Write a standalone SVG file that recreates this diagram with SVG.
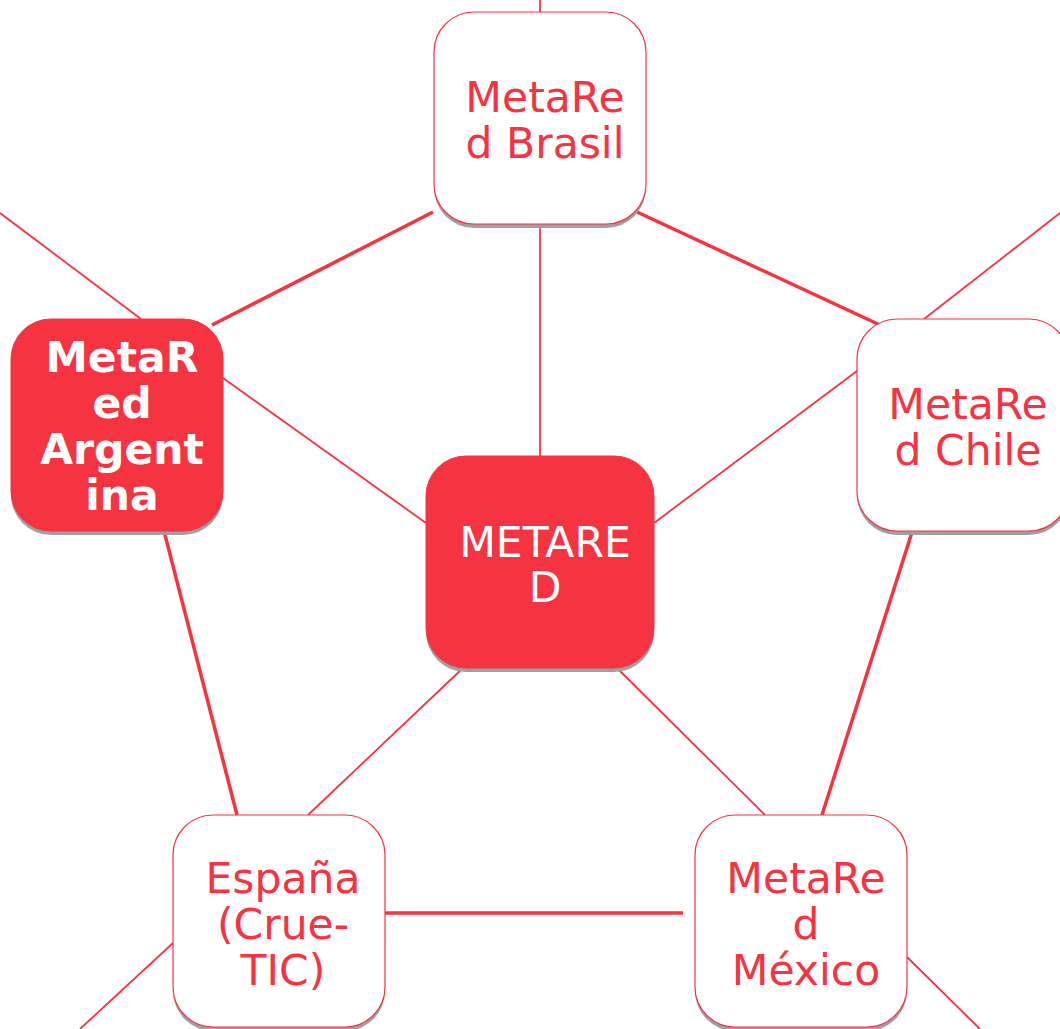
<svg xmlns="http://www.w3.org/2000/svg" width="1060" height="1029" viewBox="0 0 1060 1029">
<style>
.thin{stroke:#F63341;stroke-width:1.8;fill:none}
.thick{stroke:#F63341;stroke-width:3.5;fill:none}
.shadow{fill:#a0a0a0}
.white{fill:#ffffff;stroke:#F63341;stroke-width:1.2}
.red{fill:#F63341;stroke:#F63341;stroke-width:1}
.t{font-family:"DejaVu Sans",sans-serif;font-size:42.5px;text-anchor:middle}
.tr{fill:#F63341}
.tw{fill:#ffffff}
.b{font-weight:bold}
</style>
<rect width="1060" height="1029" fill="#ffffff"/>
<g id="connectors">
<line class="thin" x1="540" y1="0" x2="540" y2="12"/>
<line class="thin" x1="540" y1="224" x2="540" y2="456"/>
<line class="thick" x1="433" y1="212" x2="212" y2="325"/>
<line class="thick" x1="637" y1="212" x2="880" y2="325"/>
<line class="thin" x1="0" y1="213" x2="141" y2="319"/>
<line class="thin" x1="1060" y1="213" x2="924" y2="319"/>
<line class="thin" x1="223" y1="378" x2="426" y2="523"/>
<line class="thin" x1="857" y1="371" x2="654" y2="523"/>
<line class="thick" x1="164" y1="531" x2="237" y2="815"/>
<line class="thick" x1="913" y1="529" x2="822" y2="815"/>
<line class="thin" x1="463" y1="668" x2="308" y2="815"/>
<line class="thin" x1="617" y1="668" x2="765" y2="815"/>
<line class="thick" x1="385" y1="913" x2="683" y2="913"/>
<line class="thin" x1="173" y1="943" x2="80" y2="1029"/>
<line class="thin" x1="907" y1="957" x2="980" y2="1029"/>
</g>
<g id="brasil">
<rect class="shadow" x="434" y="16" width="212" height="212" rx="40"/>
<rect class="white" x="434" y="12" width="212" height="212" rx="40"/>
<text class="t tr" x="545" y="112">MetaRe</text>
<text class="t tr" x="545" y="158">d Brasil</text>
</g>
<g id="argentina">
<rect class="shadow" x="11" y="323" width="212" height="212" rx="40"/>
<rect class="red" x="11" y="319" width="212" height="212" rx="40"/>
<text class="t tw b" x="122" y="372">MetaR</text>
<text class="t tw b" x="122" y="418">ed</text>
<text class="t tw b" x="122" y="464">Argent</text>
<text class="t tw b" x="122" y="510">ina</text>
</g>
<g id="metared">
<rect class="shadow" x="426" y="460" width="228" height="212" rx="40"/>
<rect class="red" x="426" y="456" width="228" height="212" rx="40"/>
<text class="t tw" x="545" y="557">METARE</text>
<text class="t tw" x="545" y="602">D</text>
</g>
<g id="chile">
<rect class="shadow" x="857" y="323" width="212" height="212" rx="40"/>
<rect class="white" x="857" y="319" width="212" height="212" rx="40"/>
<text class="t tr" x="968" y="419">MetaRe</text>
<text class="t tr" x="968" y="465">d Chile</text>
</g>
<g id="espana">
<rect class="shadow" x="173" y="819" width="212" height="212" rx="40"/>
<rect class="white" x="173" y="815" width="212" height="212" rx="40"/>
<text class="t tr" x="283" y="893">España</text>
<text class="t tr" x="283" y="939">(Crue-</text>
<text class="t tr" x="283" y="985">TIC)</text>
</g>
<g id="mexico">
<rect class="shadow" x="695" y="819" width="212" height="212" rx="40"/>
<rect class="white" x="695" y="815" width="212" height="212" rx="40"/>
<text class="t tr" x="806" y="893">MetaRe</text>
<text class="t tr" x="806" y="939">d</text>
<text class="t tr" x="806" y="985">México</text>
</g>
</svg>
